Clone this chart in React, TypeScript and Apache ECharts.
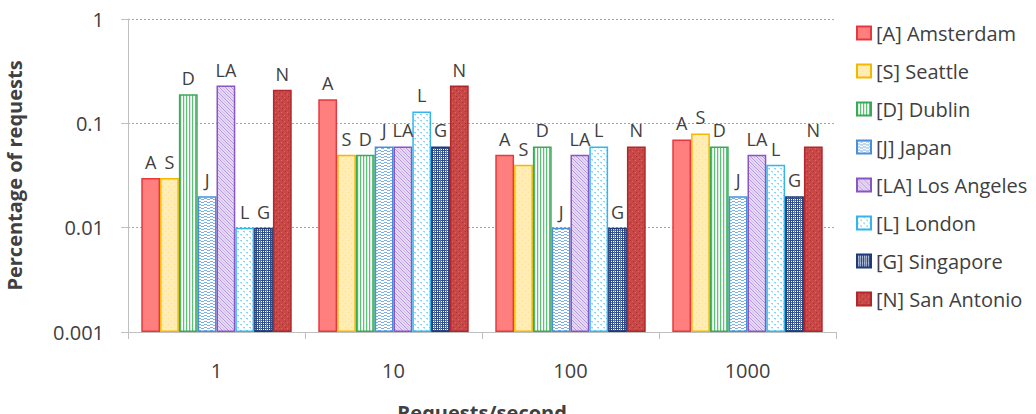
import React, { useEffect, useRef } from "react";
import * as echarts from "echarts";

const categories = ["1", "10", "100", "1000"];
const seriesNames = [
  "[A] Amsterdam",
  "[S] Seattle",
  "[D] Dublin",
  "[J] Japan",
  "[LA] Los Angeles",
  "[L] London",
  "[G] Singapore",
  "[N] San Antonio",
];
const abbrevs = ["A", "S", "D", "J", "LA", "L", "G", "N"];
const amsterdam = [0.03, 0.17, 0.05, 0.07];
const seattle = [0.03, 0.05, 0.04, 0.08];
const dublin = [0.19, 0.05, 0.06, 0.06];
const japan = [0.02, 0.06, 0.01, 0.02];
const losAngeles = [0.23, 0.06, 0.05, 0.05];
const london = [0.01, 0.13, 0.06, 0.04];
const singapore = [0.01, 0.06, 0.01, 0.02];
const sanAntonio = [0.21, 0.23, 0.06, 0.06];
const allValues = [amsterdam, seattle, dublin, japan, losAngeles, london, singapore, sanAntonio];
const yTickLabels = ["0.001", "0.01", "0.1", "1"];
// axis floor (10^-3): bars are drawn in decades above it
const LOG_FLOOR = -3;

const borderColors = ["#E8383D", "#F5B800", "#3BAA57", "#4A8FD8", "#8A55C4", "#35B6EA", "#1F3A78", "#B3262A"];

function makePattern(kind: string): HTMLCanvasElement {
  const c = document.createElement("canvas");
  const ctx = c.getContext("2d") as CanvasRenderingContext2D;
  const s = 6;
  c.width = s;
  c.height = s;
  const fill = (col: string) => {
    ctx.fillStyle = col;
    ctx.fillRect(0, 0, s, s);
  };
  const px = (x: number, y: number, col: string, w = 1, h = 1) => {
    ctx.fillStyle = col;
    ctx.fillRect(x, y, w, h);
  };
  switch (kind) {
    case "A":
      fill("#FF7F7F");
      break;
    case "S":
      fill("#FFEDB5");
      px(0, 0, "#FFE08A");
      px(3, 3, "#FFE08A");
      break;
    case "D":
      fill("#FFFFFF");
      px(0, 0, "#5CC27A", 1, s);
      px(3, 0, "#5CC27A", 1, s);
      px(1, 0, "#D6F0DC", 1, s);
      px(4, 0, "#D6F0DC", 1, s);
      break;
    case "J":
      fill("#FFFFFF");
      px(0, 0, "#7FB0E4", 3, 1);
      px(3, 1, "#7FB0E4", 3, 1);
      px(0, 3, "#7FB0E4", 3, 1);
      px(3, 4, "#7FB0E4", 3, 1);
      break;
    case "LA":
      fill("#E6D9F3");
      for (let i = 0; i < s; i++) {
        px(i, i, "#B596DA");
        px((i + 3) % s, i, "#D3C0EA");
      }
      break;
    case "L":
      fill("#FFFFFF");
      px(0, 0, "#8AD6F2", 2, 1);
      px(3, 3, "#8AD6F2", 2, 1);
      px(1, 1, "#BDE8F8");
      px(4, 4, "#BDE8F8");
      break;
    case "G":
      fill("#FFFFFF");
      px(0, 0, "#2C4C8C", s, 1);
      px(0, 2, "#5C74A8", s, 1);
      px(0, 4, "#2C4C8C", s, 1);
      px(0, 0, "#2C4C8C", 1, s);
      px(2, 0, "#5C74A8", 1, s);
      px(4, 0, "#2C4C8C", 1, s);
      break;
    case "N":
      fill("#C84848");
      px(0, 0, "#A93030");
      px(3, 3, "#A93030");
      px(2, 1, "#D86A6A");
      px(5, 4, "#D86A6A");
      break;
  }
  return c;
}

export default function App() {
  const ref = useRef<HTMLDivElement>(null);
  useEffect(() => {
    if (!ref.current) return;
    const chart = echarts.init(ref.current, null, { renderer: "svg" });
    const font = "'Open Sans', 'Noto Sans', sans-serif";
    const series = seriesNames.map((name, i) => ({
      name,
      type: "bar",
      data: allValues[i].map((v) => Math.log10(v) - LOG_FLOOR),
      barGap: "0%",
      barCategoryGap: "15%",
      itemStyle: {
        color: { image: makePattern(abbrevs[i]), repeat: "repeat" },
        borderColor: borderColors[i],
        borderWidth: 1.5,
      },
      label: {
        show: true,
        position: "top",
        distance: 7,
        formatter: () => abbrevs[i],
        color: "#404040",
        fontSize: 18,
        fontFamily: font,
      },
    }));
    chart.setOption({
      animation: false,
      backgroundColor: "#FFFFFF",
      grid: { left: 128, right: 200, top: 19, bottom: 82, outerBoundsMode: "none", containLabel: false },
      legend: {
        orient: "vertical",
        left: 856,
        top: 23,
        padding: 0,
        itemWidth: 14,
        itemHeight: 13,
        itemGap: 18,
        icon: "rect",
        textStyle: { color: "#404040", fontSize: 20, lineHeight: 20, fontFamily: font },
        data: seriesNames,
      },
      xAxis: {
        type: "category",
        data: categories,
        name: "Requests/second",
        nameLocation: "middle",
        nameGap: 70,
        nameTextStyle: { fontSize: 20, fontWeight: "bold", color: "#404040", fontFamily: font },
        axisLine: { lineStyle: { color: "#BFBFBF" } },
        axisTick: { show: true, length: 7, lineStyle: { color: "#BFBFBF" } },
        axisLabel: { color: "#404040", fontSize: 20, fontFamily: font, margin: 28 },
      },
      yAxis: {
        type: "value",
        min: 0,
        max: 3,
        interval: 1,
        name: "Percentage of requests",
        nameLocation: "middle",
        nameGap: 104,
        nameTextStyle: { fontSize: 20, fontWeight: "bold", color: "#404040", fontFamily: font },
        axisLine: { show: true, lineStyle: { color: "#BFBFBF" } },
        axisTick: { show: true, length: 7, lineStyle: { color: "#BFBFBF" } },
        axisLabel: {
          color: "#404040",
          fontSize: 20,
          fontFamily: font,
          margin: 24,
          formatter: (v: number) => yTickLabels[Math.round(v)],
        },
        splitLine: { show: true, lineStyle: { color: "#A6A6A6", type: [2, 2], width: 1 } },
      },
      series,
    });
    return () => chart.dispose();
  }, []);
  return <div ref={ref} style={{ position: "absolute", left: 0, top: 0, width: 1036, height: 414 }} />;
}
